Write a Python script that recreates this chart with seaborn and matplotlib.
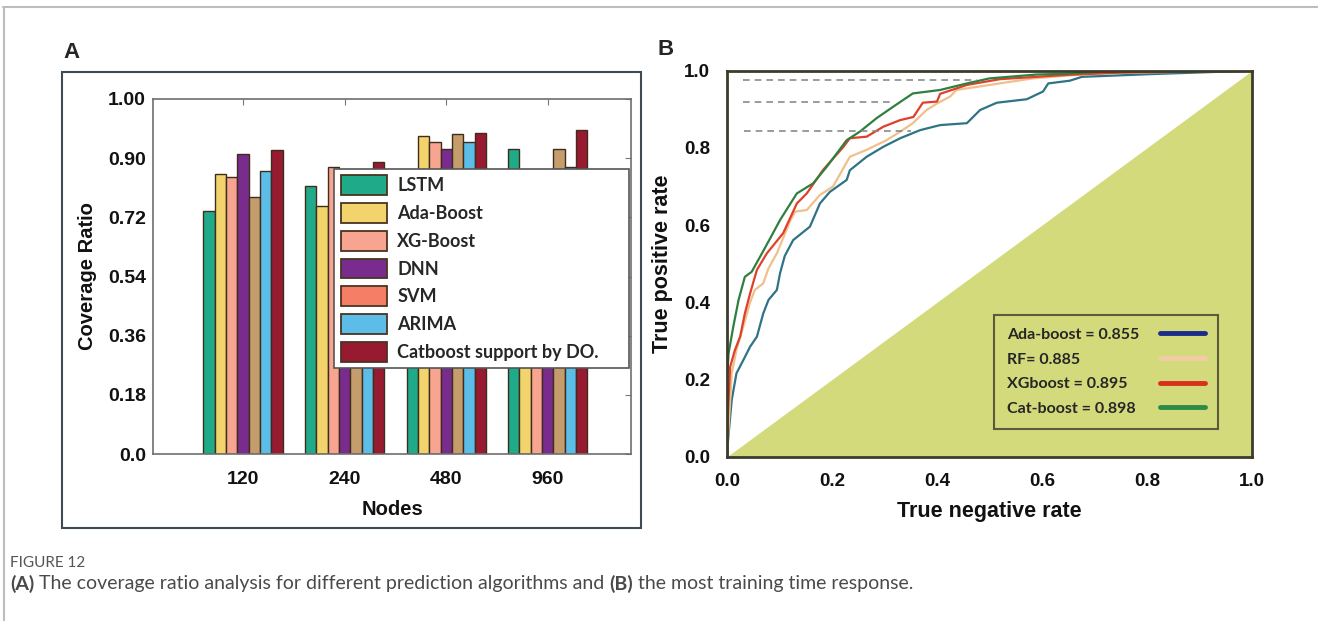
import numpy as np
import pandas as pd
import matplotlib
matplotlib.use("Agg")
import matplotlib.pyplot as plt
import seaborn as sns
from matplotlib.patches import Patch, Rectangle
from matplotlib.lines import Line2D
from matplotlib.font_manager import FontProperties
from matplotlib.ticker import NullLocator

# ---------------- data: panel A ----------------
nodes = ["120", "240", "480", "960"]
models = ["LSTM", "Ada-Boost", "XG-Boost", "DNN", "SVM", "ARIMA", "Catboost support by DO."]
lstm = [0.739, 0.816, 0.850, 0.915]
ada_boost = [0.852, 0.753, 0.937, 0.840]
xg_boost = [0.844, 0.872, 0.928, 0.850]
dnn = [0.907, 0.840, 0.915, 0.830]
svm = [0.783, 0.830, 0.941, 0.915]
arima = [0.862, 0.820, 0.928, 0.874]
catboost = [0.913, 0.889, 0.943, 0.948]
y_ticks = [0.0, 0.18, 0.36, 0.54, 0.72, 0.90, 1.00]
y_tick_labels = ["0.0", "0.18", "0.36", "0.54", "0.72", "0.90", "1.00"]

# ---------------- data: panel B ----------------
roc_models = ["Ada-boost", "RF", "XGboost", "Cat-boost"]
roc_labels = ["Ada-boost = 0.855", "RF= 0.885", "XGboost = 0.895", "Cat-boost = 0.898"]
ada_fpr = [0, 0.002, 0.009, 0.018, 0.031, 0.044, 0.057, 0.069, 0.079, 0.095, 0.101, 0.11, 0.126,
           0.158, 0.177, 0.196, 0.228, 0.234, 0.266, 0.298, 0.33, 0.368, 0.406, 0.457, 0.482,
           0.514, 0.571, 0.602, 0.612, 0.653, 0.676, 0.806, 1.0]
ada_tpr = [0, 0.043, 0.147, 0.216, 0.25, 0.285, 0.311, 0.371, 0.406, 0.432, 0.475, 0.52, 0.561,
           0.596, 0.656, 0.686, 0.717, 0.742, 0.777, 0.803, 0.825, 0.846, 0.859, 0.864, 0.898,
           0.917, 0.926, 0.946, 0.967, 0.974, 0.984, 0.991, 1.0]
rf_fpr = [0, 0.004, 0.009, 0.018, 0.031, 0.044, 0.053, 0.069, 0.079, 0.095, 0.108, 0.12, 0.13,
          0.152, 0.177, 0.202, 0.234, 0.266, 0.304, 0.33, 0.354, 0.38, 0.4, 0.425, 0.437, 0.5,
          0.583, 0.7, 1.0]
rf_tpr = [0, 0.1, 0.216, 0.276, 0.337, 0.4, 0.432, 0.449, 0.488, 0.527, 0.57, 0.61, 0.635,
          0.639, 0.678, 0.7, 0.777, 0.795, 0.82, 0.842, 0.864, 0.898, 0.915, 0.933, 0.95, 0.963,
          0.98, 0.993, 1.0]
xg_fpr = [0, 0.002, 0.006, 0.015, 0.025, 0.034, 0.044, 0.057, 0.076, 0.107, 0.133, 0.152, 0.183,
          0.222, 0.234, 0.266, 0.298, 0.33, 0.355, 0.373, 0.4, 0.406, 0.457, 0.52, 0.647, 0.75, 1.0]
xg_tpr = [0, 0.12, 0.233, 0.276, 0.311, 0.371, 0.423, 0.484, 0.527, 0.579, 0.656, 0.682, 0.743,
          0.803, 0.825, 0.829, 0.855, 0.872, 0.88, 0.917, 0.92, 0.94, 0.963, 0.978, 0.989, 0.995, 1.0]
cat_fpr = [0, 0.0, 0.003, 0.012, 0.022, 0.034, 0.047, 0.063, 0.08, 0.101, 0.133, 0.164, 0.19,
           0.228, 0.253, 0.285, 0.317, 0.354, 0.406, 0.457, 0.5, 0.59, 0.647, 0.72, 0.85, 1.0]
cat_tpr = [0, 0.2, 0.268, 0.337, 0.406, 0.466, 0.479, 0.518, 0.56, 0.613, 0.682, 0.708, 0.751,
           0.82, 0.842, 0.877, 0.907, 0.941, 0.95, 0.967, 0.98, 0.99, 0.992, 0.998, 0.999, 1.0]
dash_y = [0.975, 0.918, 0.843]
dash_x0 = [0.03, 0.03, 0.032]
dash_x1 = [0.476, 0.31, 0.35]
x_ticks_b = [0.0, 0.2, 0.4, 0.6, 0.8, 1.0]
x_tick_labels_b = ["0.0", "0.2", "0.4", "0.6", "0.8", "1.0"]

# ---------------- style ----------------
bar_colors = ["#1fab89", "#f2d36c", "#f7a590", "#7a2c8e", "#c59c6c", "#5bbde8", "#981a31"]
legend_colors = ["#1fab89", "#f2d36c", "#f7a590", "#7a2c8e", "#f57f66", "#5bbde8", "#981a31"]
roc_colors = ["#2f7386", "#f0c08c", "#e0402a", "#2f8040"]
roc_handle_colors = ["#1c2a8c", "#f3cba4", "#d9301c", "#2e8b45"]

sns.set_style("white")
plt.rcParams["font.family"] = ["Liberation Sans", "DejaVu Sans"]
AX_FONT = ["Liberation Sans", "DejaVu Sans"]

fig = plt.figure(figsize=(13.18, 6.21), dpi=100)
renderer = fig.canvas.get_renderer()

# ================= Panel A =================
axA = fig.add_axes([0.1161, 0.2689, 0.3627, 0.5717])
df = pd.DataFrame({
    "Nodes": nodes * len(models),
    "Model": np.repeat(models, len(nodes)),
    "Coverage": lstm + ada_boost + xg_boost + dnn + svm + arima + catboost,
})
sns.barplot(data=df, x="Nodes", y="Coverage", hue="Model", hue_order=models, order=nodes,
            palette=bar_colors, width=0.78, gap=0, edgecolor="#3e2c1c", linewidth=1.0,
            saturation=1, errorbar=None, legend=False, ax=axA)

def fwd(v):
    return np.interp(v, y_ticks, np.arange(len(y_ticks), dtype=float))

def inv(u):
    return np.interp(u, np.arange(len(y_ticks), dtype=float), y_ticks)

axA.set_yscale("function", functions=(fwd, inv))
axA.set_ylim(0, 1.0)
axA.set_yticks(y_ticks, labels=y_tick_labels)
axA.yaxis.set_minor_locator(NullLocator())
axA.set_xlim(-0.887, 3.82)
axA.tick_params(axis="both", direction="in", length=4, color="#777", top=True, right=True,
                labelsize=14, labelcolor="#111")
axA.tick_params(axis="x", pad=12)
axA.tick_params(axis="y", pad=5)
for lab in axA.get_xticklabels() + axA.get_yticklabels():
    lab.set_fontweight("bold")
    lab.set_family(AX_FONT)
for s in axA.spines.values():
    s.set_color("#6e6e6e")
    s.set_linewidth(1.2)
axA.set_ylabel("Coverage Ratio", fontsize=14.5, fontweight="bold", labelpad=8, color="#111",
               family=AX_FONT)
axA.set_xlabel("Nodes", fontsize=14.5, fontweight="bold", labelpad=9, color="#111",
               family=AX_FONT)

handlesA = [Patch(facecolor=c, edgecolor="#4a3420", linewidth=1.3) for c in legend_colors]
legA = axA.legend(handlesA, models, loc="upper left", bbox_to_anchor=(0.379, 0.2, 0.617, 0.603),
                  mode="expand", prop=FontProperties(family="Lato", weight="bold", size=13),
                  handlelength=2.55, handleheight=1.3, labelspacing=0.45, handletextpad=0.6,
                  borderpad=0.35, borderaxespad=0, frameon=True, fancybox=False,
                  edgecolor="#555", framealpha=1)
legA.get_frame().set_linewidth(1.2)

fig.add_artist(Rectangle((0.047, 0.1498), 0.4393, 0.7343, transform=fig.transFigure,
                         fill=False, edgecolor="#3f4a55", linewidth=1.5))

# ================= Panel B =================
axB = fig.add_axes([0.5516, 0.2646, 0.3983, 0.6216])
axB.fill_between([0, 1], [0, 1], 0, color="#d3da7b", linewidth=0, zorder=0)

roc_df = pd.DataFrame({
    "fpr": ada_fpr + rf_fpr + xg_fpr + cat_fpr,
    "tpr": ada_tpr + rf_tpr + xg_tpr + cat_tpr,
    "model": (["Ada-boost"] * len(ada_fpr) + ["RF"] * len(rf_fpr)
              + ["XGboost"] * len(xg_fpr) + ["Cat-boost"] * len(cat_fpr)),
})
sns.lineplot(data=roc_df, x="fpr", y="tpr", hue="model", hue_order=roc_models,
             palette=roc_colors, sort=False, estimator=None, linewidth=1.6,
             legend=False, ax=axB)
axB.hlines(dash_y, dash_x0, dash_x1, colors="#8a8a8a", linestyles=(0, (4, 3)), linewidth=1.2)

axB.set_xlim(0, 1)
axB.set_ylim(0, 1)
axB.set_xticks(x_ticks_b, labels=x_tick_labels_b)
axB.set_yticks(x_ticks_b, labels=x_tick_labels_b)
axB.tick_params(axis="both", length=0, labelsize=13.5, labelcolor="#111")
axB.tick_params(axis="x", pad=12)
axB.tick_params(axis="y", pad=12)
for lab in axB.get_xticklabels() + axB.get_yticklabels():
    lab.set_fontweight("bold")
    lab.set_family(AX_FONT)
for s in axB.spines.values():
    s.set_color("#3c3c2c")
    s.set_linewidth(2)
axB.set_xlabel("True negative rate", fontsize=15.5, fontweight="bold", labelpad=8, color="#111",
               family=AX_FONT)
axB.set_ylabel("True positive rate", fontsize=15.5, fontweight="bold", labelpad=8, color="#111",
               family=AX_FONT)

handlesB = [Line2D([0], [0], color=c, linewidth=3.5) for c in roc_handle_colors]
fsB = 11.5
padB = 1.3
legB = axB.legend(handlesB, roc_labels, loc="lower left", bbox_to_anchor=(0.509, 0.073),
                  markerfirst=False, prop=FontProperties(family="Lato", weight="bold", size=fsB),
                  handlelength=2.8, handletextpad=padB, labelspacing=0.65, borderpad=0.8,
                  borderaxespad=0, frameon=True, fancybox=False, edgecolor="#3c3c2c",
                  facecolor="none")
legB.get_frame().set_linewidth(1.5)
# left-align the labels while keeping the line handles in one column on the right
col = legB._legend_handle_box.get_children()[0]
col.align = "left"
widths = [t.get_window_extent(renderer).width for t in legB.texts]
maxw = max(widths)
for row, w in zip(col.get_children(), widths):
    row.sep = padB * fsB + (maxw - w) * 72.0 / fig.dpi

# ================= figure decorations =================
fig.text(0.0541, 0.9147, "A", ha="center", va="center", fontsize=16, fontweight="bold")
fig.text(0.5053, 0.9195, "B", ha="center", va="center", fontsize=16, fontweight="bold")

fig.add_artist(Line2D([0.0023, 1.0], [0.9887, 0.9887], transform=fig.transFigure,
                      color="#bdbdbd", linewidth=1.5))
fig.add_artist(Line2D([0.0030, 0.0030], [0.0, 0.9887], transform=fig.transFigure,
                      color="#bdbdbd", linewidth=1.5))

CAP_FONT = ["Lato", "DejaVu Sans"]
fig.text(10 / 1318, 1 - 563 / 621, "FIGURE 12", ha="left", va="center", fontsize=11,
         color="#555555", family=CAP_FONT)
pieces = [("(A)", "bold"), (" The coverage ratio analysis for different prediction algorithms and ", "normal"),
          ("(B)", "bold"), (" the most training time response.", "normal")]
x = 10 / 1318
for txt, w in pieces:
    t = fig.text(x, 1 - 584 / 621, txt, ha="left", va="center", fontsize=14, fontweight=w,
                 color="#4a4a4a", family=CAP_FONT)
    bb = t.get_window_extent(renderer)
    x = bb.x1 / fig.bbox.width

fig.savefig("out.png", dpi=100)
